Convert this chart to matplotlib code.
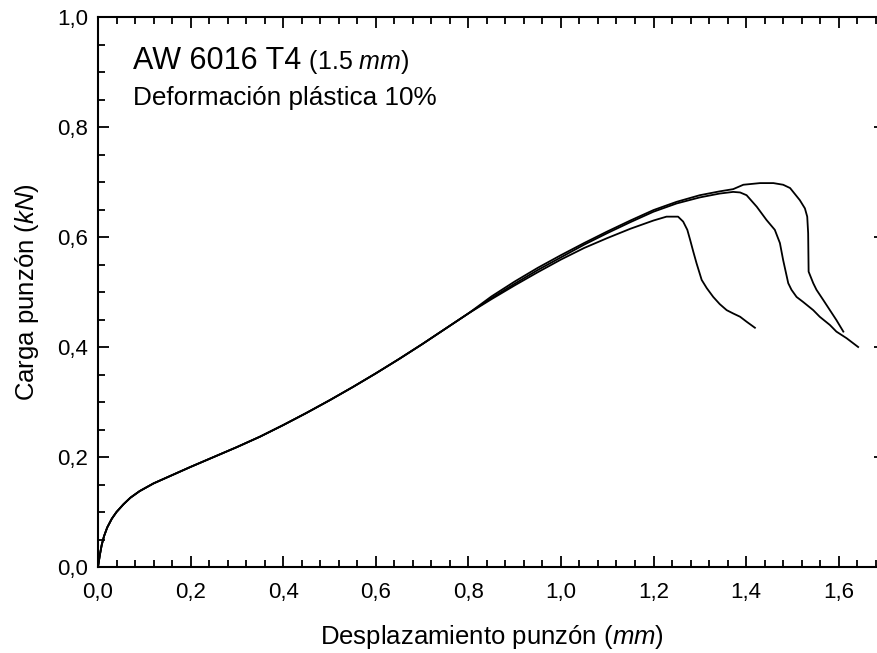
import matplotlib
matplotlib.use('Agg')
from matplotlib import pyplot as plt
from matplotlib.ticker import MultipleLocator, FuncFormatter

plt.rcParams['font.family'] = ['Liberation Sans', 'DejaVu Sans']
plt.rcParams['mathtext.fontset'] = 'custom'
plt.rcParams['mathtext.rm'] = 'Liberation Sans'
plt.rcParams['mathtext.it'] = 'Liberation Sans:italic'

# loading part, common to the three tests
x_load = [0, 0.004, 0.008, 0.013, 0.02, 0.03, 0.04, 0.055, 0.07, 0.09, 0.12, 0.16,
          0.2, 0.25, 0.3, 0.35, 0.4, 0.45, 0.5, 0.55, 0.6, 0.65, 0.7, 0.75, 0.8]
y_load = [0, 0.022, 0.04, 0.056, 0.072, 0.088, 0.1, 0.114, 0.126, 0.138, 0.152, 0.167,
          0.182, 0.2, 0.218, 0.237, 0.258, 0.28, 0.303, 0.327, 0.352, 0.378, 0.405,
          0.433, 0.461]

# test 1
x1_end = [0.85, 0.9, 0.95, 1.0, 1.05, 1.1, 1.15, 1.2, 1.228, 1.253, 1.264, 1.273,
          1.279, 1.286, 1.293, 1.304, 1.315, 1.329, 1.343, 1.358, 1.372, 1.387, 1.401,
          1.419]
y1_end = [0.487, 0.512, 0.536, 0.559, 0.580, 0.598, 0.615, 0.630, 0.637, 0.637, 0.628,
          0.613, 0.595, 0.573, 0.552, 0.522, 0.507, 0.491, 0.478, 0.467, 0.461, 0.455,
          0.446, 0.435]

# test 2
x2_end = [0.85, 0.9, 0.95, 1.0, 1.05, 1.1, 1.15, 1.2, 1.25, 1.3, 1.343, 1.372, 1.387,
          1.401, 1.423, 1.444, 1.462, 1.473, 1.480, 1.491, 1.498, 1.509, 1.523, 1.545,
          1.559, 1.581, 1.595, 1.617, 1.642]
y2_end = [0.489, 0.515, 0.540, 0.563, 0.586, 0.607, 0.627, 0.646, 0.661, 0.672, 0.679,
          0.682, 0.681, 0.676, 0.655, 0.631, 0.613, 0.589, 0.558, 0.516, 0.504, 0.491,
          0.482, 0.467, 0.455, 0.440, 0.428, 0.416, 0.400]

# test 3
x3_end = [0.85, 0.9, 0.95, 1.0, 1.05, 1.1, 1.15, 1.2, 1.25, 1.3, 1.343, 1.372, 1.394,
          1.430, 1.459, 1.480, 1.495, 1.516, 1.527, 1.532, 1.534, 1.535, 1.545, 1.552,
          1.567, 1.581, 1.595, 1.610]
y3_end = [0.492, 0.519, 0.544, 0.567, 0.589, 0.610, 0.630, 0.649, 0.664, 0.676, 0.683,
          0.687, 0.695, 0.698, 0.698, 0.695, 0.689, 0.667, 0.652, 0.637, 0.607, 0.537,
          0.516, 0.504, 0.485, 0.467, 0.449, 0.428]

fig = plt.figure(figsize=(8.77, 6.53), dpi=100)
ax = fig.add_axes([98 / 877, (653 - 567) / 653, (885 - 98) / 877, 550 / 653])

for xe, ye in [(x1_end, y1_end), (x2_end, y2_end), (x3_end, y3_end)]:
    ax.plot(x_load + xe, y_load + ye, color='black', lw=1.3)

ax.set_xlim(0, 1.7)
ax.set_ylim(0, 1.0)
ax.xaxis.set_major_locator(MultipleLocator(0.2))
ax.xaxis.set_minor_locator(MultipleLocator(0.04))
ax.yaxis.set_major_locator(MultipleLocator(0.2))
ax.yaxis.set_minor_locator(MultipleLocator(0.05))
comma = FuncFormatter(lambda v, p: f'{v:.1f}'.replace('.', ','))
ax.xaxis.set_major_formatter(comma)
ax.yaxis.set_major_formatter(comma)
ax.tick_params(which='both', direction='in', top=True, right=True, width=1.3,
               labelsize=16)
ax.tick_params(axis='x', pad=11)
ax.tick_params(axis='y', pad=7)
ax.tick_params(which='major', length=8)
ax.tick_params(which='minor', length=5)
for s in ax.spines.values():
    s.set_linewidth(1.5)

ax.set_xlabel('Desplazamiento punzón ($\\mathit{mm}$)', fontsize=18.5, labelpad=14)
ax.set_ylabel('Carga punzón ($\\mathit{kN}$)', fontsize=18.5, labelpad=12)

t = ax.text(0.045, 0.905, 'AW 6016 T4', transform=ax.transAxes, fontsize=22,
            va='baseline')
ax.annotate(' (1.5 $\\mathit{mm}$)', xy=(1, 0), xycoords=t, fontsize=18,
            va='bottom')
ax.text(0.045, 0.84, 'Deformación plástica 10%', transform=ax.transAxes,
        fontsize=18.8, va='baseline')

fig.savefig('out.png', dpi=100)
